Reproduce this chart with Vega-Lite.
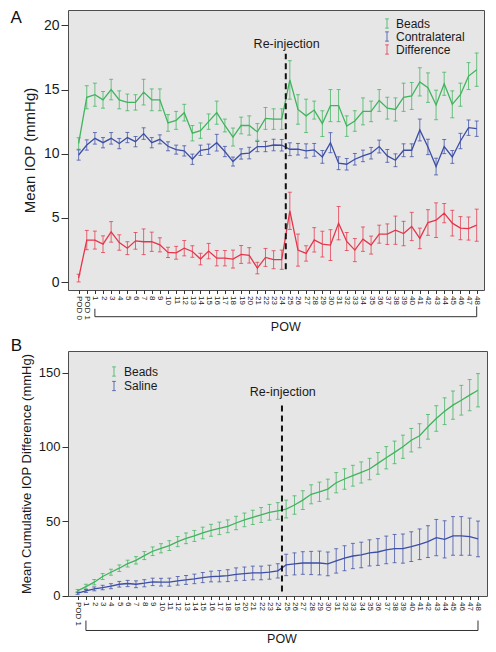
{
  "$schema": "https://vega.github.io/schema/vega-lite/v6.json",
  "background": "white",
  "padding": {"left": 10, "top": 8, "right": 2, "bottom": 2},
  "spacing": 2,
  "config": {
    "font": "Liberation Sans",
    "view": {"fill": "#e6e6e6", "stroke": "#4d4d4d", "strokeWidth": 1},
    "axis": {"domain": false, "grid": false, "tickColor": "#333333", "labelColor": "#1a1a1a", "titleColor": "#1a1a1a", "titleFontWeight": "normal", "labelOverlap": false, "labelFlush": false},
    "axisX": {"labelAngle": 90, "labelAlign": "left", "labelBaseline": "middle", "labelFontSize": 8, "labelPadding": 2, "tickSize": 3.5, "labelOverlap": false, "labelBound": false},
    "legend": {"labelColor": "#1a1a1a"}
  },
  "resolve": {"scale": {"x": "independent", "y": "independent", "color": "independent"}, "legend": {"color": "independent"}},
  "datasets": {
    "A": [
      {"s":"Beads","week":-1,"m":10.8,"e":0.45},{"s":"Beads","week":0,"m":14.4,"e":0.9},{"s":"Beads","week":1,"m":14.6,"e":0.9},{"s":"Beads","week":2,"m":14.2,"e":0.65},{"s":"Beads","week":3,"m":15.0,"e":0.8},{"s":"Beads","week":4,"m":14.2,"e":0.7},{"s":"Beads","week":5,"m":14.0,"e":0.65},{"s":"Beads","week":6,"m":14.0,"e":0.6},{"s":"Beads","week":7,"m":14.8,"e":1.0},{"s":"Beads","week":8,"m":14.2,"e":0.85},{"s":"Beads","week":9,"m":14.2,"e":0.85},{"s":"Beads","week":10,"m":12.4,"e":0.65},{"s":"Beads","week":11,"m":12.6,"e":0.7},{"s":"Beads","week":12,"m":13.2,"e":0.65},{"s":"Beads","week":13,"m":11.6,"e":0.6},{"s":"Beads","week":14,"m":11.8,"e":0.6},{"s":"Beads","week":15,"m":12.5,"e":0.6},{"s":"Beads","week":16,"m":13.2,"e":0.9},{"s":"Beads","week":17,"m":12.2,"e":0.5},{"s":"Beads","week":18,"m":11.3,"e":0.7},{"s":"Beads","week":19,"m":12.2,"e":0.65},{"s":"Beads","week":20,"m":12.2,"e":0.75},{"s":"Beads","week":21,"m":11.7,"e":0.65},{"s":"Beads","week":22,"m":12.75,"e":0.85},{"s":"Beads","week":23,"m":12.7,"e":0.8},{"s":"Beads","week":24,"m":12.7,"e":0.8},{"s":"Beads","week":25,"m":15.75,"e":1.5},{"s":"Beads","week":26,"m":13.45,"e":1.15},{"s":"Beads","week":27,"m":12.95,"e":1.3},{"s":"Beads","week":28,"m":13.4,"e":0.7},{"s":"Beads","week":29,"m":12.35,"e":1.0},{"s":"Beads","week":30,"m":13.75,"e":1.25},{"s":"Beads","week":31,"m":13.75,"e":1.25},{"s":"Beads","week":32,"m":12.15,"e":0.8},{"s":"Beads","week":33,"m":12.55,"e":0.8},{"s":"Beads","week":34,"m":13.3,"e":1.05},{"s":"Beads","week":35,"m":13.3,"e":0.8},{"s":"Beads","week":36,"m":14.15,"e":0.85},{"s":"Beads","week":37,"m":13.55,"e":0.85},{"s":"Beads","week":38,"m":13.45,"e":0.9},{"s":"Beads","week":39,"m":14.4,"e":1.1},{"s":"Beads","week":40,"m":14.5,"e":1.05},{"s":"Beads","week":41,"m":15.6,"e":1.1},{"s":"Beads","week":42,"m":15.15,"e":1.15},{"s":"Beads","week":43,"m":13.8,"e":1.15},{"s":"Beads","week":44,"m":15.45,"e":0.9},{"s":"Beads","week":45,"m":13.85,"e":1.05},{"s":"Beads","week":46,"m":14.6,"e":0.9},{"s":"Beads","week":47,"m":16.05,"e":1.05},{"s":"Beads","week":48,"m":16.55,"e":1.3},
      {"s":"Contralateral","week":-1,"m":9.9,"e":0.4},{"s":"Contralateral","week":0,"m":10.68,"e":0.4},{"s":"Contralateral","week":1,"m":11.2,"e":0.45},{"s":"Contralateral","week":2,"m":10.86,"e":0.4},{"s":"Contralateral","week":3,"m":11.2,"e":0.45},{"s":"Contralateral","week":4,"m":10.79,"e":0.4},{"s":"Contralateral","week":5,"m":11.26,"e":0.4},{"s":"Contralateral","week":6,"m":10.94,"e":0.4},{"s":"Contralateral","week":7,"m":11.57,"e":0.45},{"s":"Contralateral","week":8,"m":10.86,"e":0.4},{"s":"Contralateral","week":9,"m":11.12,"e":0.35},{"s":"Contralateral","week":10,"m":10.58,"e":0.35},{"s":"Contralateral","week":11,"m":10.32,"e":0.35},{"s":"Contralateral","week":12,"m":10.22,"e":0.4},{"s":"Contralateral","week":13,"m":9.57,"e":0.4},{"s":"Contralateral","week":14,"m":10.27,"e":0.4},{"s":"Contralateral","week":15,"m":10.35,"e":0.4},{"s":"Contralateral","week":16,"m":10.86,"e":0.65},{"s":"Contralateral","week":17,"m":10.17,"e":0.4},{"s":"Contralateral","week":18,"m":9.39,"e":0.35},{"s":"Contralateral","week":19,"m":9.98,"e":0.4},{"s":"Contralateral","week":20,"m":10.05,"e":0.45},{"s":"Contralateral","week":21,"m":10.56,"e":0.4},{"s":"Contralateral","week":22,"m":10.56,"e":0.4},{"s":"Contralateral","week":23,"m":10.68,"e":0.45},{"s":"Contralateral","week":24,"m":10.66,"e":0.45},{"s":"Contralateral","week":25,"m":10.35,"e":0.5},{"s":"Contralateral","week":26,"m":10.35,"e":0.45},{"s":"Contralateral","week":27,"m":10.22,"e":0.55},{"s":"Contralateral","week":28,"m":10.3,"e":0.5},{"s":"Contralateral","week":29,"m":9.75,"e":0.5},{"s":"Contralateral","week":30,"m":10.86,"e":0.78},{"s":"Contralateral","week":31,"m":9.26,"e":0.5},{"s":"Contralateral","week":32,"m":9.18,"e":0.45},{"s":"Contralateral","week":33,"m":9.57,"e":0.45},{"s":"Contralateral","week":34,"m":9.83,"e":0.45},{"s":"Contralateral","week":35,"m":10.04,"e":0.45},{"s":"Contralateral","week":36,"m":10.56,"e":0.5},{"s":"Contralateral","week":37,"m":9.83,"e":0.5},{"s":"Contralateral","week":38,"m":9.49,"e":0.5},{"s":"Contralateral","week":39,"m":10.27,"e":0.5},{"s":"Contralateral","week":40,"m":10.27,"e":0.5},{"s":"Contralateral","week":41,"m":11.85,"e":0.85},{"s":"Contralateral","week":42,"m":10.53,"e":0.6},{"s":"Contralateral","week":43,"m":9.0,"e":0.65},{"s":"Contralateral","week":44,"m":10.56,"e":0.55},{"s":"Contralateral","week":45,"m":9.75,"e":0.5},{"s":"Contralateral","week":46,"m":10.99,"e":0.6},{"s":"Contralateral","week":47,"m":12.03,"e":0.6},{"s":"Contralateral","week":48,"m":11.95,"e":0.6},
      {"s":"Difference","week":-1,"m":0.31,"e":0.3},{"s":"Difference","week":0,"m":3.27,"e":0.75},{"s":"Difference","week":1,"m":3.27,"e":0.7},{"s":"Difference","week":2,"m":2.95,"e":0.65},{"s":"Difference","week":3,"m":3.91,"e":0.8},{"s":"Difference","week":4,"m":3.08,"e":0.6},{"s":"Difference","week":5,"m":2.64,"e":0.5},{"s":"Difference","week":6,"m":3.21,"e":0.65},{"s":"Difference","week":7,"m":3.14,"e":1.0},{"s":"Difference","week":8,"m":3.14,"e":0.75},{"s":"Difference","week":9,"m":2.9,"e":0.55},{"s":"Difference","week":10,"m":2.31,"e":0.4},{"s":"Difference","week":11,"m":2.28,"e":0.5},{"s":"Difference","week":12,"m":2.64,"e":0.6},{"s":"Difference","week":13,"m":2.38,"e":0.45},{"s":"Difference","week":14,"m":1.79,"e":0.45},{"s":"Difference","week":15,"m":2.41,"e":0.6},{"s":"Difference","week":16,"m":1.86,"e":0.6},{"s":"Difference","week":17,"m":1.86,"e":0.6},{"s":"Difference","week":18,"m":1.79,"e":0.7},{"s":"Difference","week":19,"m":2.15,"e":0.7},{"s":"Difference","week":20,"m":2.08,"e":0.6},{"s":"Difference","week":21,"m":1.09,"e":0.45},{"s":"Difference","week":22,"m":1.92,"e":0.7},{"s":"Difference","week":23,"m":1.74,"e":0.7},{"s":"Difference","week":24,"m":1.74,"e":0.75},{"s":"Difference","week":25,"m":5.55,"e":1.45},{"s":"Difference","week":26,"m":2.49,"e":1.25},{"s":"Difference","week":27,"m":2.23,"e":0.6},{"s":"Difference","week":28,"m":3.29,"e":0.95},{"s":"Difference","week":29,"m":2.95,"e":1.0},{"s":"Difference","week":30,"m":2.88,"e":1.2},{"s":"Difference","week":31,"m":4.59,"e":1.3},{"s":"Difference","week":32,"m":3.16,"e":0.7},{"s":"Difference","week":33,"m":2.49,"e":0.9},{"s":"Difference","week":34,"m":3.34,"e":0.95},{"s":"Difference","week":35,"m":2.88,"e":0.7},{"s":"Difference","week":36,"m":3.73,"e":0.7},{"s":"Difference","week":37,"m":3.73,"e":0.8},{"s":"Difference","week":38,"m":4.04,"e":1.1},{"s":"Difference","week":39,"m":3.78,"e":0.95},{"s":"Difference","week":40,"m":4.33,"e":1.1},{"s":"Difference","week":41,"m":3.4,"e":0.8},{"s":"Difference","week":42,"m":4.64,"e":1.0},{"s":"Difference","week":43,"m":4.82,"e":1.35},{"s":"Difference","week":44,"m":5.37,"e":0.75},{"s":"Difference","week":45,"m":4.59,"e":1.0},{"s":"Difference","week":46,"m":4.2,"e":0.9},{"s":"Difference","week":47,"m":4.17,"e":0.9},{"s":"Difference","week":48,"m":4.43,"e":1.25}
    ],
    "B": [
      {"s":"Beads","week":0,"m":3.1,"e":1.0},{"s":"Beads","week":1,"m":6.0,"e":1.6},{"s":"Beads","week":2,"m":9.0,"e":1.8},{"s":"Beads","week":3,"m":12.8,"e":2.0},{"s":"Beads","week":4,"m":15.7,"e":2.0},{"s":"Beads","week":5,"m":18.4,"e":2.2},{"s":"Beads","week":6,"m":21.5,"e":2.3},{"s":"Beads","week":7,"m":23.7,"e":2.5},{"s":"Beads","week":8,"m":26.9,"e":2.7},{"s":"Beads","week":9,"m":29.8,"e":2.9},{"s":"Beads","week":10,"m":31.8,"e":3.1},{"s":"Beads","week":11,"m":33.6,"e":3.3},{"s":"Beads","week":12,"m":36.3,"e":3.4},{"s":"Beads","week":13,"m":38.5,"e":3.6},{"s":"Beads","week":14,"m":40.1,"e":3.7},{"s":"Beads","week":15,"m":42.1,"e":3.9},{"s":"Beads","week":16,"m":43.9,"e":4.0},{"s":"Beads","week":17,"m":45.2,"e":4.2},{"s":"Beads","week":18,"m":46.6,"e":4.3},{"s":"Beads","week":19,"m":48.8,"e":4.5},{"s":"Beads","week":20,"m":50.9,"e":4.6},{"s":"Beads","week":21,"m":52.6,"e":4.8},{"s":"Beads","week":22,"m":54.2,"e":5.0},{"s":"Beads","week":23,"m":56.0,"e":5.3},{"s":"Beads","week":24,"m":56.9,"e":5.6},{"s":"Beads","week":25,"m":58.2,"e":6.0},{"s":"Beads","week":26,"m":60.9,"e":6.2},{"s":"Beads","week":27,"m":64.2,"e":6.3},{"s":"Beads","week":28,"m":68.1,"e":6.4},{"s":"Beads","week":29,"m":69.8,"e":6.5},{"s":"Beads","week":30,"m":71.6,"e":6.7},{"s":"Beads","week":31,"m":75.9,"e":6.8},{"s":"Beads","week":32,"m":78.4,"e":6.9},{"s":"Beads","week":33,"m":80.6,"e":7.0},{"s":"Beads","week":34,"m":82.8,"e":7.1},{"s":"Beads","week":35,"m":85.1,"e":7.2},{"s":"Beads","week":36,"m":88.9,"e":7.3},{"s":"Beads","week":37,"m":92.7,"e":7.5},{"s":"Beads","week":38,"m":96.3,"e":7.6},{"s":"Beads","week":39,"m":100.1,"e":7.8},{"s":"Beads","week":40,"m":104.5,"e":7.9},{"s":"Beads","week":41,"m":107.5,"e":8.1},{"s":"Beads","week":42,"m":113.5,"e":8.3},{"s":"Beads","week":43,"m":119.1,"e":8.6},{"s":"Beads","week":44,"m":124.0,"e":9.0},{"s":"Beads","week":45,"m":128.1,"e":9.5},{"s":"Beads","week":46,"m":131.4,"e":10.0},{"s":"Beads","week":47,"m":134.8,"e":10.5},{"s":"Beads","week":48,"m":138.1,"e":11.2},
      {"s":"Saline","week":0,"m":1.6,"e":0.8},{"s":"Saline","week":1,"m":3.1,"e":1.0},{"s":"Saline","week":2,"m":4.5,"e":1.3},{"s":"Saline","week":3,"m":5.4,"e":1.5},{"s":"Saline","week":4,"m":6.3,"e":1.7},{"s":"Saline","week":5,"m":7.6,"e":1.9},{"s":"Saline","week":6,"m":8.1,"e":2.1},{"s":"Saline","week":7,"m":7.6,"e":2.3},{"s":"Saline","week":8,"m":8.3,"e":2.4},{"s":"Saline","week":9,"m":9.2,"e":2.5},{"s":"Saline","week":10,"m":9.0,"e":2.6},{"s":"Saline","week":11,"m":9.0,"e":2.7},{"s":"Saline","week":12,"m":9.9,"e":2.9},{"s":"Saline","week":13,"m":10.5,"e":3.0},{"s":"Saline","week":14,"m":11.2,"e":3.2},{"s":"Saline","week":15,"m":12.1,"e":3.4},{"s":"Saline","week":16,"m":12.8,"e":3.6},{"s":"Saline","week":17,"m":13.0,"e":3.8},{"s":"Saline","week":18,"m":13.4,"e":4.0},{"s":"Saline","week":19,"m":14.3,"e":4.3},{"s":"Saline","week":20,"m":14.7,"e":4.5},{"s":"Saline","week":21,"m":15.2,"e":4.6},{"s":"Saline","week":22,"m":15.2,"e":4.6},{"s":"Saline","week":23,"m":15.7,"e":4.7},{"s":"Saline","week":24,"m":16.6,"e":4.8},{"s":"Saline","week":25,"m":20.6,"e":7.2},{"s":"Saline","week":26,"m":21.3,"e":7.4},{"s":"Saline","week":27,"m":21.9,"e":7.6},{"s":"Saline","week":28,"m":21.9,"e":7.8},{"s":"Saline","week":29,"m":21.9,"e":8.0},{"s":"Saline","week":30,"m":21.3,"e":8.0},{"s":"Saline","week":31,"m":23.3,"e":8.2},{"s":"Saline","week":32,"m":25.1,"e":8.4},{"s":"Saline","week":33,"m":26.6,"e":8.5},{"s":"Saline","week":34,"m":27.3,"e":8.6},{"s":"Saline","week":35,"m":28.7,"e":8.8},{"s":"Saline","week":36,"m":29.3,"e":9.0},{"s":"Saline","week":37,"m":30.7,"e":9.3},{"s":"Saline","week":38,"m":31.6,"e":9.5},{"s":"Saline","week":39,"m":31.6,"e":9.8},{"s":"Saline","week":40,"m":32.9,"e":10.0},{"s":"Saline","week":41,"m":34.5,"e":10.3},{"s":"Saline","week":42,"m":36.3,"e":10.7},{"s":"Saline","week":43,"m":39.0,"e":12.2},{"s":"Saline","week":44,"m":37.8,"e":12.5},{"s":"Saline","week":45,"m":40.1,"e":13.0},{"s":"Saline","week":46,"m":40.1,"e":13.0},{"s":"Saline","week":47,"m":39.6,"e":12.5},{"s":"Saline","week":48,"m":38.1,"e":12.0}
    ]
  },
  "vconcat": [
    {
      "width": 416,
      "height": 280,
      "encoding": {
        "x": {"field": "week", "type": "quantitative",
          "scale": {"domain": [-2.31, 48.9], "nice": false, "zero": false},
          "axis": {"title": null, "values": [-1,0,1,2,3,4,5,6,7,8,9,10,11,12,13,14,15,16,17,18,19,20,21,22,23,24,25,26,27,28,29,30,31,32,33,34,35,36,37,38,39,40,41,42,43,44,45,46,47,48],
            "labelExpr": "datum.value == -1 ? 'POD 0' : datum.value == 0 ? 'POD 1' : '' + datum.value",
            "labelAngle": 90, "labelAlign": "left", "labelBaseline": "middle", "labelFontSize": 8, "labelPadding": 2, "tickSize": 3.5, "labelOverlap": false, "labelFlush": false, "labelBound": false}},
        "y": {"field": "m", "type": "quantitative",
          "scale": {"domain": [-0.62, 21.2], "nice": false, "zero": false},
          "axis": {"title": "Mean IOP (mmHg)", "values": [0,5,10,15,20], "labelFontSize": 14, "titleFontSize": 15, "tickSize": 7, "labelPadding": 2, "titlePadding": 6, "labelFlush": false, "labelOverlap": false}}
      },
      "layer": [
        {"data": {"name": "A"}, "mark": {"type": "errorbar", "ticks": true, "size": 4, "thickness": 1, "opacity": 0.75},
          "encoding": {
            "yError": {"field": "e"},
            "color": {"field": "s", "type": "nominal",
              "scale": {"domain": ["Beads","Contralateral","Difference"], "range": ["#3fb45c","#3c4ea6","#e6354a"]},
              "legend": {"title": null, "orient": "none", "legendX": 313, "legendY": 7.5, "padding": 0, "symbolType": "M0,-1V1M-0.4,-1H0.4M-0.4,1H0.4", "symbolSize": 85, "symbolStrokeWidth": 1, "symbolOpacity": 0.8, "labelFontSize": 12, "labelOffset": 3, "rowPadding": -1}}
          }},
        {"data": {"name": "A"}, "mark": {"type": "line", "strokeWidth": 1.3},
          "encoding": {"color": {"field": "s", "type": "nominal"}}},
        {"data": {"values": [{"week": 24.5, "m": 1.0, "m2": 17.8}]}, "mark": {"type": "rule", "strokeDash": [6, 4], "strokeWidth": 2, "color": "#111111"}, "encoding": {"y2": {"field": "m2"}}},
        {"data": {"values": [{"week": 24.6, "m": 18.57, "label": "Re-injection"}, {"week": 24.5, "m": -3.48, "label": "POW"}]}, "mark": {"type": "text", "fontSize": 12.5, "color": "#1a1a1a", "baseline": "middle"}, "encoding": {"text": {"field": "label"}}},
        {"data": {"values": [{"week": 1, "week2": 48, "m": -2.7}]}, "mark": {"type": "rule", "strokeWidth": 1, "color": "#333333"}, "encoding": {"x2": {"field": "week2"}}},
        {"data": {"values": [{"week": 1, "m": -2.08, "m2": -2.7}, {"week": 48, "m": -1.9, "m2": -2.7}]}, "mark": {"type": "rule", "strokeWidth": 1, "color": "#333333"}, "encoding": {"y2": {"field": "m2"}}},
        {"data": {"values": [{"week": -8.69, "m": 20.57, "label": "A"}]}, "mark": {"type": "text", "fontSize": 17, "color": "#111111", "baseline": "middle"}, "encoding": {"text": {"field": "label"}}}
      ]
    },
    {
      "width": 419,
      "height": 245,
      "encoding": {
        "x": {"field": "week", "type": "quantitative",
          "scale": {"domain": [-1.15, 49.08], "nice": false, "zero": false},
          "axis": {"title": null, "values": [0,1,2,3,4,5,6,7,8,9,10,11,12,13,14,15,16,17,18,19,20,21,22,23,24,25,26,27,28,29,30,31,32,33,34,35,36,37,38,39,40,41,42,43,44,45,46,47,48],
            "labelExpr": "datum.value == 0 ? 'POD 1' : '' + datum.value",
            "labelAngle": 90, "labelAlign": "left", "labelBaseline": "middle", "labelFontSize": 8, "labelPadding": 2, "tickSize": 3.5, "labelOverlap": false, "labelFlush": false, "labelBound": false}},
        "y": {"field": "m", "type": "quantitative",
          "scale": {"domain": [-0.3, 164.5], "nice": false, "zero": false},
          "axis": {"title": "Mean Cumulative IOP Difference (mmHg)", "values": [0,50,100,150], "labelFontSize": 13, "titleFontSize": 13, "tickSize": 6, "labelPadding": 2, "titlePadding": 5, "labelFlush": false, "labelOverlap": false}}
      },
      "layer": [
        {"data": {"name": "B"}, "mark": {"type": "errorbar", "ticks": true, "size": 4, "thickness": 1, "opacity": 0.75},
          "encoding": {
            "yError": {"field": "e"},
            "color": {"field": "s", "type": "nominal",
              "scale": {"domain": ["Beads","Saline"], "range": ["#3fb45c","#3c4ea6"]},
              "legend": {"title": null, "orient": "none", "legendX": 40, "legendY": 14.5, "padding": 0, "symbolType": "M0,-1V1M-0.4,-1H0.4M-0.4,1H0.4", "symbolSize": 85, "symbolStrokeWidth": 1, "symbolOpacity": 0.8, "labelFontSize": 12, "labelOffset": 4, "rowPadding": 0.5}}
          }},
        {"data": {"name": "B"}, "mark": {"type": "line", "strokeWidth": 1.3},
          "encoding": {"color": {"field": "s", "type": "nominal"}}},
        {"data": {"values": [{"week": 24.5, "m": 2.7, "m2": 129}]}, "mark": {"type": "rule", "strokeDash": [6, 4], "strokeWidth": 2, "color": "#111111"}, "encoding": {"y2": {"field": "m2"}}},
        {"data": {"values": [{"week": 24.6, "m": 137, "label": "Re-injection"}, {"week": 24.5, "m": -29.3, "label": "POW"}]}, "mark": {"type": "text", "fontSize": 12.5, "color": "#1a1a1a", "baseline": "middle"}, "encoding": {"text": {"field": "label"}}},
        {"data": {"values": [{"week": 1, "week2": 48, "m": -23.5}]}, "mark": {"type": "rule", "strokeWidth": 1, "color": "#333333"}, "encoding": {"x2": {"field": "week2"}}},
        {"data": {"values": [{"week": 1, "m": -16.8, "m2": -23.5}, {"week": 48, "m": -16.8, "m2": -23.5}]}, "mark": {"type": "rule", "strokeWidth": 1, "color": "#333333"}, "encoding": {"y2": {"field": "m2"}}},
        {"data": {"values": [{"week": -7.34, "m": 168.1, "label": "B"}]}, "mark": {"type": "text", "fontSize": 17, "color": "#111111", "baseline": "middle"}, "encoding": {"text": {"field": "label"}}}
      ]
    }
  ]
}
